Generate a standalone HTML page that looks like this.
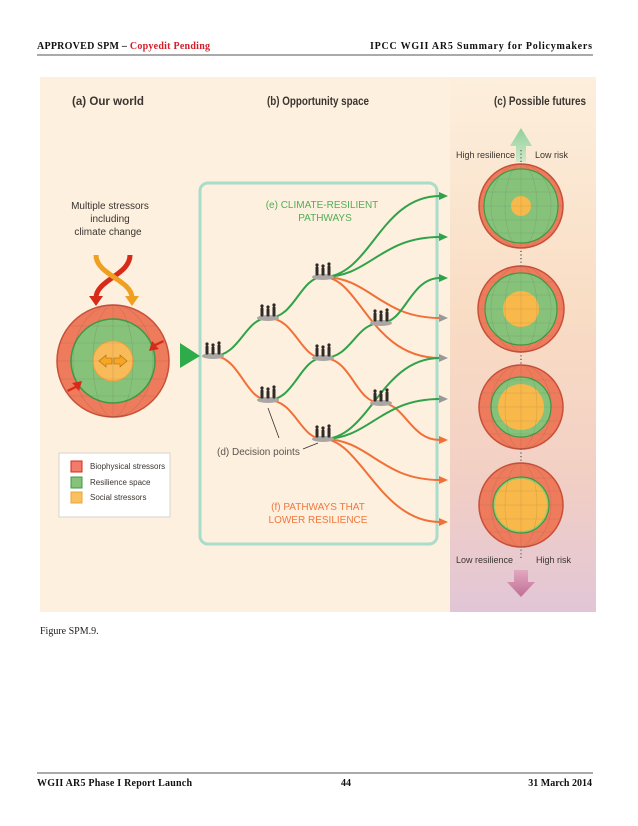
<!DOCTYPE html>
<html><head><meta charset="utf-8"><style>
body{margin:0;background:#fff}
svg{display:block}
.h{font-family:"Liberation Serif",serif;font-weight:bold;font-size:10px}
.n{font-family:"Liberation Sans",sans-serif}
</style></head><body>
<svg width="638" height="826" viewBox="0 0 638 826" xmlns="http://www.w3.org/2000/svg">
<defs>
<linearGradient id="rp" x1="0" y1="0" x2="0" y2="1">
<stop offset="0" stop-color="#fcefdc"/><stop offset="0.45" stop-color="#f9dcc4"/><stop offset="0.75" stop-color="#f2cfc4"/><stop offset="1" stop-color="#e2c6d6"/>
</linearGradient>
<linearGradient id="ua" x1="0" y1="0" x2="0" y2="1"><stop offset="0" stop-color="#8fd09a"/><stop offset="1" stop-color="#cfe9c8"/></linearGradient>
<linearGradient id="da" x1="0" y1="0" x2="0" y2="1"><stop offset="0" stop-color="#e2a8c0"/><stop offset="1" stop-color="#c06e94"/></linearGradient>
<g id="ppl">
<ellipse cx="0" cy="3" rx="11" ry="3" fill="#a9a6a4"/>
<g fill="#2f2a28">
<circle cx="-6" cy="-9" r="1.6"/><rect x="-7.5" y="-7.5" width="3" height="9" rx="1"/>
<circle cx="0" cy="-8" r="1.6"/><rect x="-1.5" y="-6.5" width="3" height="8" rx="1"/>
<circle cx="6" cy="-10" r="1.6"/><rect x="4.5" y="-8.5" width="3" height="10" rx="1"/>
</g></g>
</defs>

<text x="37" y="49" class="h" fill="#111" textLength="173" lengthAdjust="spacing">APPROVED SPM – <tspan fill="#d0202a">Copyedit Pending</tspan></text>
<text x="370" y="49" class="h" fill="#111" textLength="222" lengthAdjust="spacing">IPCC WGII AR5 Summary for Policymakers</text>
<line x1="37" y1="55" x2="593" y2="55" stroke="#555" stroke-width="1"/>

<rect x="40" y="77" width="556" height="535" fill="#fdf0de"/>
<rect x="450" y="77" width="146" height="535" fill="url(#rp)"/>

<text x="108" y="105" class="n" font-size="12" font-weight="bold" fill="#3a3530" text-anchor="middle" textLength="72" lengthAdjust="spacingAndGlyphs">(a) Our world</text>
<text x="318" y="105" class="n" font-size="12" font-weight="bold" fill="#3a3530" text-anchor="middle" textLength="102" lengthAdjust="spacingAndGlyphs">(b) Opportunity space</text>
<text x="540" y="105" class="n" font-size="12" font-weight="bold" fill="#3a3530" text-anchor="middle" textLength="92" lengthAdjust="spacingAndGlyphs">(c) Possible futures</text>

<text class="n" font-size="10" fill="#3a3530" text-anchor="middle"><tspan x="110" y="209">Multiple stressors</tspan><tspan x="110" y="222">including</tspan><tspan x="108" y="235">climate change</tspan></text>

<path d="M130 255 C130 275 96 280 96 298" fill="none" stroke="#d82a18" stroke-width="5"/>
<path d="M89 296 L103 296 L96 306 Z" fill="#d82a18"/>
<path d="M96 255 C96 275 132 280 132 298" fill="none" stroke="#f0a020" stroke-width="5"/>
<path d="M125 296 L139 296 L132 306 Z" fill="#f0a020"/>

<circle cx="113" cy="361" r="56" fill="#ee7b5c" stroke="#c8503a" stroke-width="1.5"/>
<circle cx="113" cy="361" r="42" fill="#86c27a" stroke="#3f9a45" stroke-width="1.5"/>
<circle cx="113" cy="361" r="20" fill="#f9ba5a" stroke="#eea33a"/>
<g fill="none" stroke="#55544a" stroke-opacity="0.22" stroke-width="0.6">
<line x1="113" y1="305" x2="113" y2="417"/>
<ellipse cx="113" cy="361" rx="20" ry="56"/><ellipse cx="113" cy="361" rx="40" ry="56"/>
<line x1="60" y1="343" x2="166" y2="343"/><line x1="57" y1="361" x2="169" y2="361"/><line x1="60" y1="379" x2="166" y2="379"/><line x1="70" y1="326" x2="156" y2="326"/><line x1="70" y1="396" x2="156" y2="396"/>
</g>
<path d="M99 361 l7 -6 v3 h6 v6 h-6 v3 z" fill="#f5a623" stroke="#b06a10" stroke-width="0.6"/>
<path d="M127 361 l-7 -6 v3 h-6 v6 h6 v3 z" fill="#f5a623" stroke="#b06a10" stroke-width="0.6"/>
<path d="M163 340 l-8 4 -3 -3 -3 10 10 -2 -3 -3 8 -4z" fill="#d82a18"/>
<path d="M68 392 l8 -4 3 3 3 -10 -10 2 3 3 -8 4z" fill="#d82a18"/>

<rect x="59" y="453" width="111" height="64" fill="#fff" stroke="#ccc" stroke-width="0.8"/>
<rect x="71" y="461" width="11" height="11" fill="#f27b6a" stroke="#d82a18"/>
<rect x="71" y="477" width="11" height="11" fill="#86c27a" stroke="#3f9a45"/>
<rect x="71" y="492" width="11" height="11" fill="#f9c060" stroke="#eea33a"/>
<text class="n" font-size="8" fill="#3a3530"><tspan x="90" y="469">Biophysical stressors</tspan><tspan x="90" y="485">Resilience space</tspan><tspan x="90" y="500">Social stressors</tspan></text>

<rect x="200" y="183" width="237" height="361" rx="8" fill="none" stroke="#a9dccb" stroke-width="3"/>
<path d="M180 343 L200 356 L180 368 Z" fill="#2fac4a"/>

<text class="n" font-size="10" fill="#52ad56" text-anchor="middle"><tspan x="322" y="208">(e) CLIMATE-RESILIENT</tspan><tspan x="325" y="221">PATHWAYS</tspan></text>
<text class="n" font-size="10" fill="#f07840" text-anchor="middle"><tspan x="318" y="510">(f) PATHWAYS THAT</tspan><tspan x="318" y="523">LOWER RESILIENCE</tspan></text>
<text x="217" y="455" class="n" font-size="10" fill="#5a5550">(d) Decision points</text>
<line x1="268" y1="408" x2="279" y2="438" stroke="#333" stroke-width="0.8"/>
<line x1="303" y1="449" x2="318" y2="443" stroke="#333" stroke-width="0.8"/>

<g fill="none" stroke-width="2">
<g stroke="#f07038">
<path d="M213 356 C240 356 245 400 268 400"/>
<path d="M268 318 C295 318 300 358 323 358"/>
<path d="M268 400 C295 400 300 439 323 439"/>
<path d="M323 277 C370 277 380 318 440 318"/>
<path d="M323 277 C360 277 370 358 440 358"/>
<path d="M323 358 C352 358 355 403 381 403 C405 403 410 440 440 440"/>
<path d="M323 439 C370 439 380 480 440 480"/>
<path d="M323 439 C360 439 380 522 440 522"/>
</g>
<g stroke="#2fa24a">
<path d="M213 356 C240 356 245 318 268 318"/>
<path d="M268 318 C295 318 300 277 323 277"/>
<path d="M268 400 C295 400 300 358 323 358"/>
<path d="M323 277 C370 277 380 196 440 196"/>
<path d="M323 277 C370 277 380 237 440 237"/>
<path d="M323 358 C352 358 355 323 381 323 C405 323 410 278 440 278"/>
<path d="M323 439 C370 439 380 358 440 358"/>
<path d="M323 439 C370 439 380 399 440 399"/>
</g>
</g>
<g>
<path d="M439 192 l9 4 -9 4z" fill="#2fa24a"/>
<path d="M439 233 l9 4 -9 4z" fill="#2fa24a"/>
<path d="M439 274 l9 4 -9 4z" fill="#2fa24a"/>
<path d="M439 314 l9 4 -9 4z" fill="#999"/>
<path d="M439 354 l9 4 -9 4z" fill="#999"/>
<path d="M439 395 l9 4 -9 4z" fill="#999"/>
<path d="M439 436 l9 4 -9 4z" fill="#f07038"/>
<path d="M439 476 l9 4 -9 4z" fill="#f07038"/>
<path d="M439 518 l9 4 -9 4z" fill="#f07038"/>
</g>
<use href="#ppl" x="213" y="353"/>
<use href="#ppl" x="268" y="315"/>
<use href="#ppl" x="323" y="274"/>
<use href="#ppl" x="323" y="355"/>
<use href="#ppl" x="268" y="397"/>
<use href="#ppl" x="381" y="320"/>
<use href="#ppl" x="381" y="400"/>
<use href="#ppl" x="323" y="436"/>

<path d="M521 128 L532 146 L526 146 L526 162 L516 162 L516 146 L510 146 Z" fill="url(#ua)"/>
<line x1="521" y1="150" x2="521" y2="560" stroke="#888" stroke-width="2" stroke-dasharray="1.2 2.4"/>
<text class="n" font-size="9" fill="#3a3530"><tspan x="456" y="158">High resilience</tspan><tspan x="535" y="158">Low risk</tspan><tspan x="456" y="563">Low resilience</tspan><tspan x="536" y="563">High risk</tspan></text>
<path d="M514 570 L528 570 L528 582 L535 582 L521 597 L507 582 L514 582 Z" fill="url(#da)"/>

<g transform="translate(521,206)">
<circle r="42" fill="#ee7b5c" stroke="#c8503a" stroke-width="1.5"/>
<circle r="37" fill="#86c27a" stroke="#3f9a45" stroke-width="1.2"/>
<circle r="10" fill="#f9b84a"/>
</g>
<g transform="translate(521,309)">
<circle r="43" fill="#ee7b5c" stroke="#c8503a" stroke-width="1.5"/>
<circle r="36" fill="#86c27a" stroke="#3f9a45" stroke-width="1.2"/>
<circle r="18" fill="#f9b84a"/>
</g>
<g transform="translate(521,407)">
<circle r="42" fill="#ee7b5c" stroke="#c8503a" stroke-width="1.5"/>
<circle r="30" fill="#86c27a" stroke="#3f9a45" stroke-width="1.2"/>
<circle r="23" fill="#f9b84a"/>
</g>
<g transform="translate(521,505)">
<circle r="42" fill="#ee7b5c" stroke="#c8503a" stroke-width="1.5"/>
<circle r="28" fill="#9ec86a" stroke="#3f9a45" stroke-width="1.2"/>
<circle r="26" fill="#f9b84a"/>
</g>
<g fill="none" stroke="#55544a" stroke-opacity="0.2" stroke-width="0.6">
<g transform="translate(521,206)"><line y1="-42" y2="42"/><ellipse rx="16" ry="42"/><ellipse rx="30" ry="42"/><line x1="-40" y1="-14" x2="40" y2="-14"/><line x1="-42" y1="0" x2="42" y2="0"/><line x1="-40" y1="14" x2="40" y2="14"/><line x1="-32" y1="-27" x2="32" y2="-27"/><line x1="-32" y1="27" x2="32" y2="27"/></g>
<g transform="translate(521,309)"><line y1="-43" y2="43"/><ellipse rx="16" ry="43"/><ellipse rx="30" ry="43"/><line x1="-40" y1="-14" x2="40" y2="-14"/><line x1="-42" y1="0" x2="42" y2="0"/><line x1="-40" y1="14" x2="40" y2="14"/><line x1="-32" y1="-27" x2="32" y2="-27"/><line x1="-32" y1="27" x2="32" y2="27"/></g>
<g transform="translate(521,407)"><line y1="-42" y2="42"/><ellipse rx="16" ry="42"/><ellipse rx="30" ry="42"/><line x1="-40" y1="-14" x2="40" y2="-14"/><line x1="-42" y1="0" x2="42" y2="0"/><line x1="-40" y1="14" x2="40" y2="14"/><line x1="-32" y1="-27" x2="32" y2="-27"/><line x1="-32" y1="27" x2="32" y2="27"/></g>
<g transform="translate(521,505)"><line y1="-42" y2="42"/><ellipse rx="16" ry="42"/><ellipse rx="30" ry="42"/><line x1="-40" y1="-14" x2="40" y2="-14"/><line x1="-42" y1="0" x2="42" y2="0"/><line x1="-40" y1="14" x2="40" y2="14"/><line x1="-32" y1="-27" x2="32" y2="-27"/><line x1="-32" y1="27" x2="32" y2="27"/></g>
</g>

<text x="40" y="634" font-family="Liberation Serif,serif" font-size="10" fill="#222">Figure SPM.9.</text>

<line x1="37" y1="773" x2="593" y2="773" stroke="#555" stroke-width="1"/>
<text x="37" y="786" class="h" fill="#111" textLength="155" lengthAdjust="spacing">WGII AR5 Phase I Report Launch</text>
<text x="346" y="786" class="h" fill="#111" text-anchor="middle">44</text>
<text x="592" y="786" class="h" fill="#111" text-anchor="end">31 March 2014</text>
</svg>
</body></html>
